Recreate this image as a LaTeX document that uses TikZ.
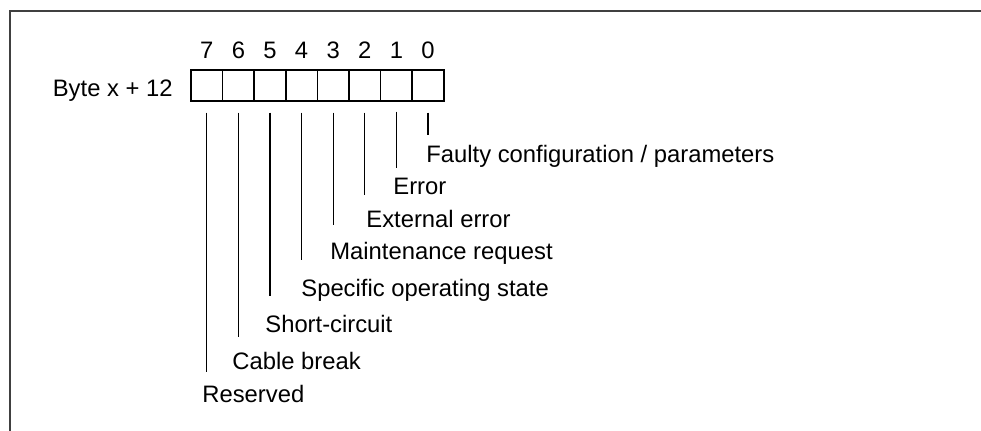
\documentclass[tikz,border=0pt]{standalone}
\usepackage{fontspec}
\setmainfont{Liberation Sans}
\usetikzlibrary{positioning}

\tikzset{
  bitcell/.style={draw, line width=0.85pt, minimum width=15.8pt, minimum height=15.5pt, inner sep=0pt, outer sep=0pt},
  bitnum/.style={inner sep=0pt},
  bitlabel/.style={anchor=base west, inner sep=0pt},
  lead/.style={line width=0.6pt, shorten <=6pt},
}

\begin{document}
\begin{tikzpicture}[x=0.5pt,y=0.5pt,yscale=-1,font=\fontsize{11.9}{14}\selectfont]
\useasboundingbox (0,0) rectangle (981,431);

%Frame
\draw [line width=1pt, black!75] (9.5,431) -- (9.5,11) -- (981,11) ;

%Shape: Byte cells
\node [bitcell] (b7) at (206.8,85.2) {};
\node [bitcell, right=0pt of b7] (b6) {};
\node [bitcell, right=0pt of b6] (b5) {};
\node [bitcell, right=0pt of b5] (b4) {};
\node [bitcell, right=0pt of b4] (b3) {};
\node [bitcell, right=0pt of b3] (b2) {};
\node [bitcell, right=0pt of b2] (b1) {};
\node [bitcell, right=0pt of b1] (b0) {};

% Text Node: bit numbers
\node [bitnum, above=5.2pt of b7] (n7) {7};
\node [bitnum, above=5.2pt of b6] (n6) {6};
\node [bitnum, above=5.2pt of b5] (n5) {5};
\node [bitnum, above=5.2pt of b4] (n4) {4};
\node [bitnum, above=5.2pt of b3] (n3) {3};
\node [bitnum, above=5.2pt of b2] (n2) {2};
\node [bitnum, above=5.2pt of b1] (n1) {1};
\node [bitnum, above=5.2pt of b0] (n0) {0};

% Text Node
\node [anchor=base east, inner sep=0pt] (byte) at (173,96.5) {Byte x + 12};

% Text Node: bit meanings
\node [bitlabel] (l0) at (426,163) {Faulty configuration / parameters};
\node [bitlabel] (l1) at (393,195) {Error};
\node [bitlabel] (l2) at (366,228) {External error};
\node [bitlabel] (l3) at (330,260) {Maintenance request};
\node [bitlabel] (l4) at (301,297) {Specific operating state};
\node [bitlabel] (l5) at (265,333) {Short-circuit};
\node [bitlabel] (l6) at (232,370) {Cable break};
\node [bitlabel] (l7) at (202,403) {Reserved};

%Straight Lines
\draw [lead, shorten >=5pt] (b0.south) -- (b0.south |- l0.north) ;
\draw [lead, shorten <=5.5pt, shorten >=5pt] (b1.south) -- (b1.south |- l1.north) ;
\draw [lead, shorten >=7.5pt] (b2.south) -- (b2.south |- l2.north) ;
\draw [lead, shorten >=8.5pt] (b3.south) -- (b3.south |- l3.north) ;
\draw [lead, shorten >=9.5pt] (b4.south) -- (b4.south |- l4.north) ;
\draw [lead, shorten >=9.5pt] (b5.south) -- (b5.south |- l5.north) ;
\draw [lead, shorten >=7.5pt] (b6.south) -- (b6.south |- l6.north) ;
\draw [lead, shorten >=6.5pt] (b7.south) -- (b7.south |- l7.north) ;

\end{tikzpicture}
\end{document}
